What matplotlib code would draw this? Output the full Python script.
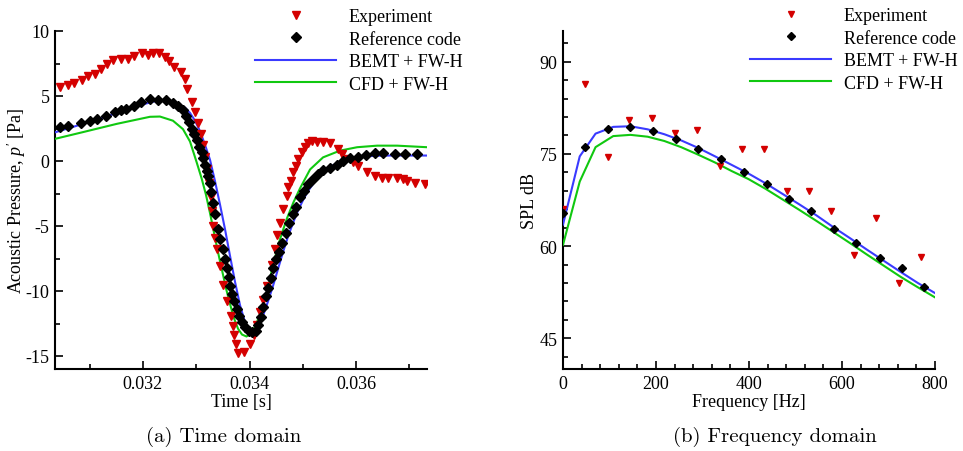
import matplotlib
matplotlib.use("Agg")
import matplotlib.pyplot as plt
from matplotlib.ticker import MultipleLocator, FixedLocator

plt.rcParams['font.family'] = ['Liberation Serif', 'DejaVu Serif']
plt.rcParams['mathtext.fontset'] = 'custom'
plt.rcParams['mathtext.rm'] = 'Liberation Serif'
plt.rcParams['mathtext.it'] = 'Liberation Serif:italic'
plt.rcParams['axes.unicode_minus'] = False

# ---- (a) time domain data ----
exp_t = [0.030441, 0.030597, 0.030704, 0.030849, 0.030973, 0.031099, 0.031206, 0.031318,
         0.031442, 0.031581, 0.031724, 0.031831, 0.031976, 0.032100, 0.032193, 0.032306,
         0.032413, 0.032494, 0.032582, 0.032714, 0.032789, 0.032832, 0.032915, 0.032977,
         0.033039, 0.033084, 0.033127, 0.033164, 0.033202, 0.033239, 0.033268, 0.033296,
         0.033320, 0.033352, 0.033390, 0.033446, 0.033497, 0.033572, 0.033647, 0.033685,
         0.033709, 0.033737, 0.033793, 0.033887, 0.034000, 0.034085, 0.034141, 0.034197,
         0.034259, 0.034334, 0.034413, 0.034469, 0.034516, 0.034563, 0.034635, 0.034695,
         0.034723, 0.034770, 0.034822, 0.034864, 0.034916, 0.034980, 0.035042, 0.035099,
         0.035168, 0.035273, 0.035386, 0.035512, 0.035668, 0.035731, 0.035793, 0.035949,
         0.036043, 0.036201, 0.036357, 0.036483, 0.036607, 0.036776, 0.036888, 0.036952,
         0.037108, 0.037296]
exp_p = [5.70, 5.82, 6.03, 6.21, 6.51, 6.67, 7.06, 7.44,
         7.75, 7.83, 7.88, 8.06, 8.32, 8.19, 8.32, 8.32,
         8.01, 7.70, 7.24, 6.85, 6.30, 5.56, 4.54, 3.76,
         2.90, 2.09, 1.24, 0.31, -0.62, -1.70, -2.80, -3.86,
         -5.00, -5.90, -6.80, -8.09, -9.50, -10.80, -11.95, -12.73,
         -13.40, -14.10, -14.75, -14.70, -14.10, -13.40, -12.60, -11.60,
         -10.66, -9.64, -8.00, -6.80, -5.70, -4.74, -3.71, -2.68,
         -2.00, -1.55, -0.88, -0.36, 0.15, 0.67, 1.10, 1.35,
         1.52, 1.50, 1.48, 1.35, 0.93, 0.54, 0.15, -0.10,
         -0.41, -0.88, -1.18, -1.34, -1.34, -1.34, -1.39, -1.52,
         -1.72, -1.78]

ref_t = [0.030451, 0.030597, 0.030836, 0.031005, 0.031146, 0.031305, 0.031474, 0.031587,
         0.031681, 0.031831, 0.031957, 0.032137, 0.032287, 0.032432, 0.032569, 0.032663,
         0.032751, 0.032817, 0.032873, 0.032920, 0.032967, 0.033014, 0.033057, 0.033099,
         0.033132, 0.033164, 0.033196, 0.033226, 0.033258, 0.033286, 0.033320, 0.033361,
         0.033414, 0.033455, 0.033497, 0.033534, 0.033572, 0.033606, 0.033639, 0.033671,
         0.033709, 0.033756, 0.033803, 0.033859, 0.033915, 0.033981, 0.034047, 0.034113,
         0.034160, 0.034207, 0.034254, 0.034300, 0.034347, 0.034394, 0.034441, 0.034488,
         0.034545, 0.034610, 0.034676, 0.034742, 0.034807, 0.034873, 0.034948, 0.035023,
         0.035104, 0.035198, 0.035292, 0.035386, 0.035512, 0.035637, 0.035761, 0.035887,
         0.036037, 0.036188, 0.036357, 0.036507, 0.036732, 0.036920, 0.037140]
ref_p = [2.60, 2.73, 2.93, 3.08, 3.22, 3.50, 3.78, 3.90,
         4.02, 4.22, 4.54, 4.76, 4.73, 4.73, 4.48, 4.20,
         3.90, 3.50, 3.00, 2.50, 2.10, 1.60, 1.10, 0.70,
         0.20, -0.30, -0.75, -1.15, -1.70, -2.40, -3.20, -4.10,
         -5.20, -6.00, -6.80, -7.50, -8.20, -8.90, -9.60, -10.20,
         -10.80, -11.35, -11.90, -12.40, -12.75, -13.10, -13.15, -13.05,
         -12.60, -12.00, -11.20, -10.40, -9.80, -9.00, -8.20, -7.50,
         -7.00, -6.30, -5.50, -4.80, -4.10, -3.50, -2.80, -2.30,
         -1.80, -1.39, -1.00, -0.72, -0.55, -0.28, 0.00, 0.22,
         0.33, 0.45, 0.60, 0.58, 0.56, 0.56, 0.56]

bemt_t = [0.030347, 0.030629, 0.030911, 0.031192, 0.031474, 0.031756, 0.032038, 0.032225,
          0.032357, 0.032507, 0.032657, 0.032789, 0.032883, 0.032977, 0.033070, 0.033164,
          0.033258, 0.033352, 0.033446, 0.033540, 0.033634, 0.033728, 0.033822, 0.033915,
          0.034009, 0.034084, 0.034160, 0.034253, 0.034347, 0.034441, 0.034535, 0.034629,
          0.034723, 0.034817, 0.034911, 0.035005, 0.035099, 0.035230, 0.035361, 0.035512,
          0.035700, 0.035887, 0.036075, 0.036357, 0.036638, 0.036920, 0.037333]
bemt_p = [2.20, 2.55, 2.90, 3.25, 3.65, 4.05, 4.40, 4.60,
          4.65, 4.55, 4.38, 4.10, 3.70, 3.10, 2.30, 1.25,
          0.10, -1.55, -3.35, -5.25, -7.30, -9.30, -11.10, -12.40,
          -13.05, -13.10, -12.75, -11.90, -10.80, -9.60, -8.30, -7.00,
          -5.80, -4.75, -3.80, -3.00, -2.30, -1.55, -0.95, -0.45,
          -0.05, 0.20, 0.32, 0.40, 0.42, 0.42, 0.42]

cfd_t = [0.030347, 0.030873, 0.031512, 0.032131, 0.032319, 0.032563, 0.032751, 0.032883,
         0.033008, 0.033102, 0.033183, 0.033258, 0.033333, 0.033408, 0.033484, 0.033559,
         0.033634, 0.033709, 0.033784, 0.033859, 0.033944, 0.034028, 0.034103, 0.034197,
         0.034323, 0.034447, 0.034573, 0.034699, 0.034822, 0.034948, 0.035136, 0.035380,
         0.035699, 0.036019, 0.036394, 0.036770, 0.037333]
cfd_p = [1.70, 2.22, 2.86, 3.40, 3.42, 3.10, 2.45, 1.50,
         -0.10, -1.35, -2.60, -4.00, -5.50, -7.00, -8.40, -9.80,
         -11.00, -12.10, -12.90, -13.35, -13.50, -13.25, -12.75, -11.80,
         -10.15, -7.90, -6.00, -4.45, -3.20, -2.10, -0.65, 0.28,
         0.80, 1.06, 1.18, 1.18, 1.06]

# ---- (b) frequency domain data ----
exp_f = [0, 48, 97, 143, 191, 240, 289, 338, 384, 433, 481, 529, 577, 625, 673, 722, 769]
exp_spl = [66.1, 86.3, 74.5, 80.5, 80.9, 78.4, 78.9, 73.0, 75.8, 75.8, 69.0, 68.9, 65.7,
           58.6, 64.5, 54.0, 58.25]
ref_f = [0, 48, 97, 145, 194, 242, 290, 339, 389, 438, 486, 534, 582, 631, 681, 729, 777]
ref_spl = [65.4, 76.1, 79.05, 79.3, 78.7, 77.4, 75.8, 74.1, 72.07, 70.1, 67.7, 65.7, 62.85,
           60.5, 58.1, 56.5, 53.3]
line_f = [0, 36, 70, 108, 145, 182, 218, 254, 290, 327, 363, 399, 436, 472, 508, 545,
          581, 617, 654, 690, 726, 763, 799]
bemt_spl = [63.5, 74.6, 78.3, 79.4, 79.5, 79.0, 78.2, 77.2, 76.0, 74.6, 73.2, 71.8, 70.2,
            68.5, 66.8, 65.0, 63.1, 61.3, 59.4, 57.6, 55.8, 54.0, 52.4]
cfd_spl = [60.2, 70.5, 76.1, 77.9, 78.1, 77.8, 77.1, 76.1, 74.9, 73.6, 72.2, 70.9, 69.3,
           67.6, 65.9, 64.1, 62.3, 60.5, 58.6, 56.8, 55.0, 53.3, 51.7]

red = '#d40000'
blue = '#3a3aff'
green = '#10c810'
fs = 13

fig = plt.figure(figsize=(9.63, 4.52), dpi=100)
ax1 = fig.add_axes([55 / 963, 82 / 452, 372 / 963, 338 / 452])
ax2 = fig.add_axes([563 / 963, 82 / 452, 372 / 963, 338 / 452])


def style_axes(ax):
    for s in ['top', 'right']:
        ax.spines[s].set_visible(False)
    for s in ['left', 'bottom']:
        ax.spines[s].set_linewidth(1.5)
    ax.tick_params(which='both', direction='in', width=1.2, labelsize=fs, pad=4)
    ax.tick_params(which='major', length=6)
    ax.tick_params(which='minor', length=3.5)


leg_kw = dict(bbox_transform=fig.transFigure, frameon=False, fontsize=fs, numpoints=1,
              handlelength=4.5, handletextpad=0.7, labelspacing=0.31, borderpad=0,
              borderaxespad=0, loc='upper left')

# (a) time domain
ax1.plot(exp_t, exp_p, 'v', color=red, ms=5.5, mec=red, label='Experiment', zorder=4)
ax1.plot(ref_t, ref_p, 'D', color='black', ms=5, label='Reference code', zorder=5)
ax1.plot(bemt_t, bemt_p, '-', color=blue, lw=1.5, label='BEMT + FW-H', zorder=3)
ax1.plot(cfd_t, cfd_p, '-', color=green, lw=1.5, label='CFD + FW-H', zorder=3)
ax1.set_xlim(0.03035, 0.03733)
ax1.set_ylim(-16, 10)
ax1.xaxis.set_major_locator(FixedLocator([0.032, 0.034, 0.036]))
ax1.set_xticklabels(['0.032', '0.034', '0.036'])
ax1.xaxis.set_minor_locator(FixedLocator([0.031, 0.033, 0.035, 0.037]))
ax1.yaxis.set_major_locator(MultipleLocator(5))
ax1.yaxis.set_minor_locator(MultipleLocator(2.5))
style_axes(ax1)
ax1.set_xlabel('Time [s]', fontsize=fs, labelpad=1)
ax1.set_ylabel("Acoustic Pressure, $p'$ [Pa]", fontsize=fs, labelpad=-2)
ax1.legend(bbox_to_anchor=(255 / 963, 1 - 9 / 452), **leg_kw)

# (b) frequency domain
ax2.plot(exp_f, exp_spl, 'v', color=red, ms=5, mec=red, label='Experiment', zorder=4)
ax2.plot(ref_f, ref_spl, 'D', color='black', ms=4.5, label='Reference code', zorder=5)
ax2.plot(line_f, bemt_spl, '-', color=blue, lw=1.5, label='BEMT + FW-H', zorder=3)
ax2.plot(line_f, cfd_spl, '-', color=green, lw=1.5, label='CFD + FW-H', zorder=3)
ax2.set_xlim(0, 800)
ax2.set_ylim(40, 95)
ax2.xaxis.set_major_locator(MultipleLocator(200))
ax2.xaxis.set_minor_locator(MultipleLocator(40))
ax2.yaxis.set_major_locator(FixedLocator([45, 60, 75, 90]))
ax2.yaxis.set_minor_locator(MultipleLocator(3))
style_axes(ax2)
ax2.set_xlabel('Frequency [Hz]', fontsize=fs, labelpad=1)
ax2.set_ylabel('SPL dB', fontsize=fs, labelpad=1)
ax2.legend(bbox_to_anchor=(750 / 963, 1 - 8 / 452), **leg_kw)

fig.text(224 / 963, 1 - 437 / 452, '(a) Time domain', ha='center', va='center',
         family='cmr10', fontsize=15)
fig.text(775 / 963, 1 - 437 / 452, '(b) Frequency domain', ha='center', va='center',
         family='cmr10', fontsize=15)

fig.savefig('out.png', dpi=100)
